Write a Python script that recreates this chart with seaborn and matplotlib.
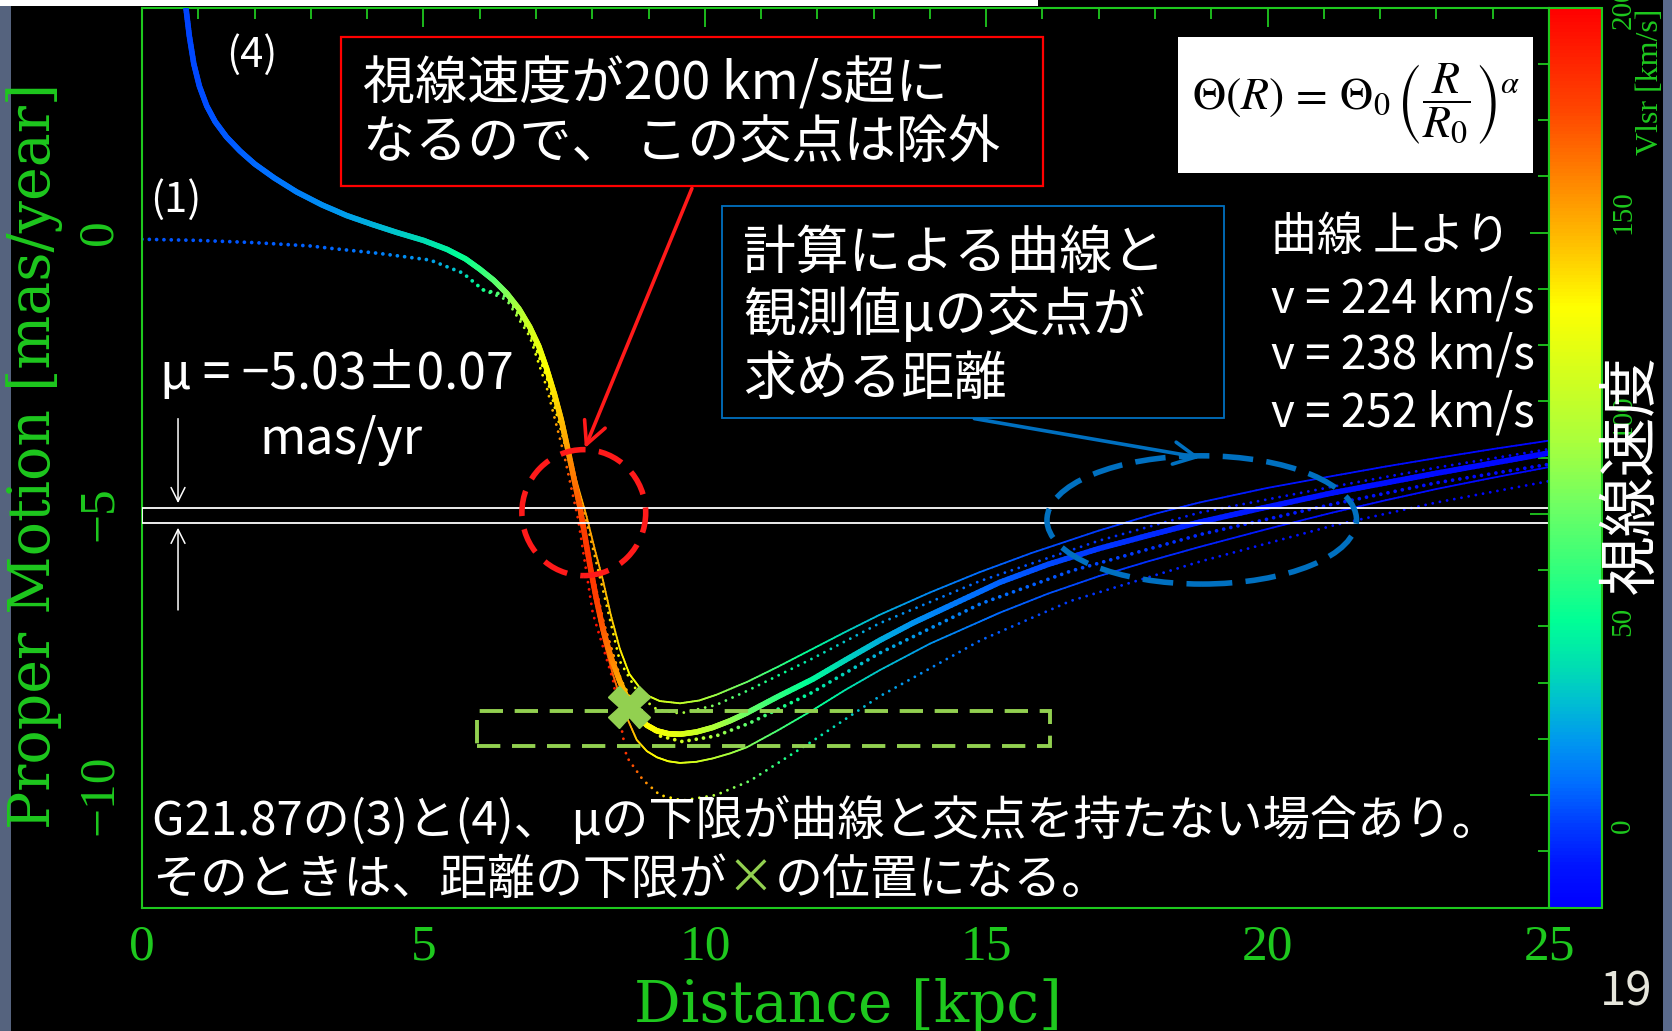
import numpy as np
import matplotlib
matplotlib.use("Agg")
import matplotlib.pyplot as plt
import seaborn as sns
from matplotlib.collections import LineCollection
from matplotlib.colors import LinearSegmentedColormap, Normalize
from matplotlib.patches import Rectangle, Ellipse
from matplotlib.cm import ScalarMappable
from matplotlib.ticker import MultipleLocator

# ---------------- data ----------------
# case (4): three rotation speeds (224 / 238 / 252 km/s)
# distance [kpc], proper motion [mas/yr], Vlsr [km/s] along each curve
main_d = [0.78, 0.84, 0.92, 1.02, 1.15, 1.30, 1.50, 1.74, 2.00, 2.35, 2.75, 3.20, 3.64, 4.10,
          4.53, 5.00, 5.42, 5.75, 6.00, 6.25, 6.48, 6.70, 6.89, 7.05, 7.19, 7.33, 7.45, 7.55,
          7.66, 7.78, 7.87, 7.96, 8.07, 8.19, 8.33, 8.49, 8.64, 8.79, 8.97, 9.15, 9.35, 9.56,
          9.85, 10.14, 10.45, 10.75, 11.30, 11.92, 12.50, 13.11, 13.70, 14.30, 15.24, 16.10,
          17.00, 17.90, 18.79, 19.90, 21.15, 22.10, 23.00, 24.00, 25.00]
main_mu = [4.00, 3.50, 3.00, 2.60, 2.25, 1.97, 1.70, 1.45, 1.22, 0.97, 0.72, 0.49, 0.30, 0.14,
           0.00, -0.14, -0.30, -0.47, -0.65, -0.85, -1.08, -1.36, -1.68, -2.02, -2.42, -2.88,
           -3.33, -3.78, -4.30, -4.88, -5.40, -5.92, -6.50, -7.05, -7.55, -7.98, -8.32, -8.58,
           -8.76, -8.86, -8.91, -8.92, -8.88, -8.80, -8.68, -8.54, -8.25, -7.94, -7.60, -7.25,
           -6.94, -6.66, -6.22, -5.90, -5.62, -5.38, -5.15, -4.90, -4.63, -4.45, -4.28, -4.10,
           -3.92]
main_v = [2, 2, 3, 3, 4, 5, 6, 7, 9, 11, 14, 18, 22, 27,
          32, 38, 45, 52, 60, 70, 82, 95, 108, 118, 126, 134, 142, 150,
          160, 170, 178, 182, 178, 170, 160, 150, 140, 133, 128, 125, 120, 116,
          108, 98, 88, 78, 62, 48, 37, 27, 20, 14, 8, 3,
          -1, -4, -7, -9, -11, -13, -14, -15, -16]

upper_d = [6.48, 6.89, 7.19, 7.45, 7.70, 7.90, 8.05, 8.19, 8.33, 8.49, 8.66, 8.85, 9.00, 9.20,
           9.56, 9.90, 10.20, 10.75, 11.30, 11.92, 12.50, 13.10, 14.00, 14.88, 15.80, 17.00,
           18.00, 18.79, 20.00, 21.15, 22.10, 23.00, 24.00, 25.00]
upper_mu = [-1.08, -1.68, -2.42, -3.30, -4.35, -5.05, -5.65, -6.18, -6.80, -7.40, -7.85, -8.10,
            -8.24, -8.33, -8.37, -8.32, -8.22, -7.99, -7.72, -7.40, -7.10, -6.80, -6.40, -6.04,
            -5.70, -5.30, -5.00, -4.80, -4.54, -4.33, -4.16, -4.01, -3.85, -3.70]
upper_v = [82, 108, 126, 138, 146, 150, 150, 146, 140, 133, 126, 120, 115, 110,
           104, 97, 90, 76, 62, 48, 37, 27, 17, 10, 5, 0,
           -4, -6, -9, -11, -13, -14, -16, -17]

lower_d = [6.48, 6.89, 7.19, 7.45, 7.66, 7.78, 7.96, 8.19, 8.35, 8.49, 8.64, 8.79, 8.97, 9.15,
           9.35, 9.56, 9.85, 10.14, 10.45, 10.75, 11.30, 11.92, 12.50, 13.11, 14.00, 14.88,
           15.24, 16.10, 17.00, 17.90, 18.79, 20.00, 21.15, 22.10, 23.00, 24.00, 25.00]
lower_mu = [-1.08, -1.68, -2.42, -3.35, -4.35, -4.95, -6.05, -7.20, -7.80, -8.25, -8.68, -9.02,
            -9.22, -9.33, -9.40, -9.43, -9.41, -9.35, -9.26, -9.15, -8.85, -8.49, -8.13, -7.78,
            -7.31, -6.92, -6.76, -6.42, -6.11, -5.84, -5.59, -5.27, -4.98, -4.76, -4.56, -4.36,
            -4.17]
lower_v = [82, 108, 126, 145, 160, 170, 182, 178, 170, 160, 150, 140, 132, 126,
           121, 117, 110, 102, 93, 84, 68, 54, 42, 32, 20, 12,
           9, 5, 1, -3, -6, -9, -11, -13, -14, -16, -17]

# case (1): dotted curves
dot_main_d = [0.0, 1.0, 2.0, 3.0, 3.34, 4.2, 5.12, 5.70, 6.06, 6.48, 6.89, 7.19, 7.50, 7.75,
              7.95, 8.20, 8.50, 8.85, 9.20, 9.60, 10.20, 10.80, 11.90, 13.10, 14.90, 16.50,
              18.80, 21.20, 23.00, 25.00]
dot_main_mu = [-0.12, -0.14, -0.18, -0.24, -0.28, -0.37, -0.49, -0.72, -1.02, -1.12, -1.74,
               -2.52, -3.55, -4.70, -5.85, -6.95, -7.95, -8.60, -8.95, -9.05, -8.95, -8.72,
               -8.18, -7.48, -6.60, -6.02, -5.37, -4.82, -4.45, -4.12]
dot_main_v = [5, 5, 6, 8, 9, 14, 22, 35, 55, 80, 105, 125, 150, 170,
              180, 165, 145, 128, 118, 108, 92, 72, 45, 26, 12, 4, -5, -10, -13, -16]

dot_upper_d = [6.06, 6.48, 6.89, 7.19, 7.55, 7.90, 8.19, 8.49, 8.85, 9.15, 9.56, 10.20, 10.75,
               11.92, 13.10, 14.88, 17.00, 18.79, 21.15, 23.00, 25.00]
dot_upper_mu = [-1.02, -1.15, -1.78, -2.58, -3.90, -5.15, -6.35, -7.62, -8.25, -8.48, -8.55,
                -8.40, -8.15, -7.57, -6.95, -6.20, -5.48, -4.98, -4.52, -4.18, -3.85]
dot_upper_v = [55, 80, 105, 125, 140, 150, 140, 125, 112, 105, 95, 80, 65,
               40, 22, 8, -2, -8, -12, -15, -18]

dot_lower_d = [6.06, 6.48, 6.89, 7.19, 7.50, 7.75, 8.01, 8.37, 8.61, 8.90, 9.20, 9.60, 10.20,
               10.80, 11.90, 13.10, 14.90, 16.50, 18.80, 21.20, 23.00, 25.00]
dot_lower_mu = [-1.02, -1.20, -1.85, -2.75, -3.95, -5.10, -6.77, -7.96, -9.32, -9.73, -10.0,
                -10.1, -10.0, -9.75, -9.05, -8.25, -7.25, -6.55, -5.85, -5.20, -4.80, -4.42]
dot_lower_v = [55, 80, 110, 135, 165, 185, 195, 190, 180, 160, 140, 120, 95,
               75, 45, 25, 8, 0, -8, -12, -15, -18]

# observed proper motion
mu_obs = -5.03
mu_err = 0.07

# colour scale for Vlsr
vlsr_nodes = [-20, -10, 0, 10, 20, 30, 38, 50, 65, 78, 94, 110, 127, 143, 159, 175, 200]
vlsr_colors = ["#0000ff", "#0014ff", "#003cff", "#006eff", "#0096f0", "#00bed2", "#00dcb4",
               "#00ff96", "#3cff78", "#6eff64", "#aaff3c", "#d2ff1e", "#ffff00", "#ffbe00",
               "#ff8200", "#ff4600", "#ff0000"]
vmin, vmax = -20, 200

x_ticks_major = [0, 5, 10, 15, 20, 25]
y_ticks_major = [0, -5, -10]
cb_ticks = [0, 50, 100, 150, 200]

# ---------------- style ----------------
sns.set_theme(style="dark", rc={"axes.facecolor": "black", "figure.facecolor": "black",
                                "axes.grid": False})
plt.rcParams["font.family"] = ["Noto Sans CJK JP", "DejaVu Sans"]

GREEN = "#1ec81e"
W, H = 1672, 1031
fig = plt.figure(figsize=(W / 100, H / 100), dpi=100, facecolor="black")


def fx(px):
    return px / W


def fy(py):
    return 1 - py / H


ax = fig.add_axes([fx(142), fy(907.5), (1549 - 142) / W, 900 / H])
cax = fig.add_axes([fx(1549), fy(907.5), 53 / W, 900 / H])
ax.set_facecolor("black")

pos = [(v - vmin) / (vmax - vmin) for v in vlsr_nodes]
cmap = LinearSegmentedColormap.from_list("vlsr", list(zip(pos, vlsr_colors)))
norm = Normalize(vmin=vmin, vmax=vmax)


def gradient_line(d, mu, v, lw, z=3, sub=12):
    d, mu, v = (np.asarray(a, float) for a in (d, mu, v))
    t = np.linspace(0, 1, sub + 1)
    segs, vals = [], []
    for i in range(len(d) - 1):
        xs = d[i] + (d[i + 1] - d[i]) * t
        ys = mu[i] + (mu[i + 1] - mu[i]) * t
        vs = v[i] + (v[i + 1] - v[i]) * t
        for j in range(sub):
            segs.append([(xs[j], ys[j]), (xs[j + 1], ys[j + 1])])
            vals.append(0.5 * (vs[j] + vs[j + 1]))
    lc = LineCollection(segs, cmap=cmap, norm=norm, linewidths=lw, zorder=z,
                        capstyle="round")
    lc.set_array(np.array(vals))
    ax.add_collection(lc)


def dotted_line(d, mu, v, step=0.13, size=5, z=2.5):
    # evenly spaced dots along the polyline, coloured by Vlsr
    d, mu, v = (np.asarray(a, float) for a in (d, mu, v))
    seg = np.hypot(np.diff(d), np.diff(mu))
    s = np.concatenate([[0], np.cumsum(seg)])
    sp = np.arange(0, s[-1], step)
    xd = np.interp(sp, s, d)
    yd = np.interp(sp, s, mu)
    vd = np.interp(sp, s, v)
    sns.scatterplot(x=xd, y=yd, hue=vd, palette=cmap, hue_norm=norm, s=size,
                    linewidth=0, legend=False, ax=ax, zorder=z)


dotted_line(dot_main_d, dot_main_mu, dot_main_v, size=7)
dotted_line(dot_upper_d, dot_upper_mu, dot_upper_v, size=4)
dotted_line(dot_lower_d, dot_lower_mu, dot_lower_v, size=4)
gradient_line(upper_d, upper_mu, upper_v, 1.3)
gradient_line(lower_d, lower_mu, lower_v, 1.3)
gradient_line(main_d, main_mu, main_v, 4.0, z=4)

ax.set_xlim(0, 25)
ax.set_ylim(-12, 4)

# observed proper-motion band
ax.add_patch(Rectangle((0, mu_obs - 2 * mu_err), 25, 4 * mu_err, fill=False,
                       edgecolor="white", lw=1.3, zorder=6))

# axes styling
for sp_ in ax.spines.values():
    sp_.set_color(GREEN)
    sp_.set_linewidth(1.5)
ax.xaxis.set_major_locator(MultipleLocator(5))
ax.xaxis.set_minor_locator(MultipleLocator(1))
ax.yaxis.set_major_locator(MultipleLocator(5))
ax.yaxis.set_minor_locator(MultipleLocator(1))
ax.tick_params(which="both", direction="in", top=True, right=True, color=GREEN, width=1.3)
ax.tick_params(which="major", length=14)
ax.tick_params(which="minor", length=8)
ax.set_xticks(x_ticks_major)
ax.set_xticklabels([str(t) for t in x_ticks_major], family="Liberation Serif",
                   fontsize=37, color=GREEN)
ax.set_yticks(y_ticks_major)
ax.set_yticklabels(["\u2212" + str(-t) if t < 0 else str(t) for t in y_ticks_major],
                   family="Liberation Serif", fontsize=37, color=GREEN, rotation=90,
                   va="center")
ax.tick_params(axis="x", pad=12)
ax.tick_params(axis="y", pad=14)

fig.text(fx(848), fy(1006), "Distance [kpc]", family="DejaVu Serif", fontsize=42,
         color=GREEN, ha="center", va="center")
fig.text(fx(35), fy(456), "Proper Motion [mas/year]", family="DejaVu Serif", fontsize=41,
         color=GREEN, ha="center", va="center", rotation=90)

# colour bar
sm = ScalarMappable(norm=norm, cmap=cmap)
cb = fig.colorbar(sm, cax=cax)
cb.outline.set_edgecolor(GREEN)
cb.outline.set_linewidth(1.5)
cax.yaxis.set_major_locator(MultipleLocator(50))
cax.yaxis.set_minor_locator(MultipleLocator(10))
cax.tick_params(which="both", direction="in", left=True, right=True, color=GREEN, width=1.2)
cax.tick_params(which="major", length=9)
cax.tick_params(which="minor", length=5)
cax.set_yticks(cb_ticks)
cax.set_yticklabels([str(t) for t in cb_ticks], family="Liberation Serif", fontsize=21,
                    color=GREEN, rotation=90, va="center")
cax.tick_params(axis="y", pad=6)
fig.text(fx(1651), fy(82), "Vlsr [km/s]", family="Liberation Serif", fontsize=23,
         color=GREEN, ha="center", va="center", rotation=90)

# slide frame pieces
fig.patches.append(Rectangle((0, 0), fx(11), 1, transform=fig.transFigure,
                             facecolor="#55637e", edgecolor="none", zorder=0))
fig.patches.append(Rectangle((fx(1663), 0), 1 - fx(1663), 1, transform=fig.transFigure,
                             facecolor="#5a6a8c", edgecolor="none", zorder=0))
fig.patches.append(Rectangle((0, fy(5.5)), fx(1038), 5.5 / H, transform=fig.transFigure,
                             facecolor="white", edgecolor="none", zorder=0))

WH = "white"
JP = ["Noto Sans CJK JP", "DejaVu Sans"]

# red note box
fig.patches.append(Rectangle((fx(341), fy(186)), (1043 - 341) / W, (186 - 37) / H,
                             transform=fig.transFigure, facecolor="black",
                             edgecolor="#ff0000", lw=1.6, zorder=5))
fig.text(fx(363), fy(85), "視線速度が200 km/s超に", color=WH, fontsize=37.5, family=JP,
         va="center", zorder=6)
fig.text(fx(363), fy(144), "なるので、 この交点は除外", color=WH, fontsize=37.5, family=JP,
         va="center", zorder=6)

# formula box
fig.patches.append(Rectangle((fx(1178), fy(173)), (1533 - 1178) / W, (173 - 37) / H,
                             transform=fig.transFigure, facecolor="white",
                             edgecolor="none", zorder=5))
fig.text(fx(1356), fy(104),
         r"$\Theta(R)\,=\,\Theta_0\,\left(\dfrac{R}{R_0}\right)^{\alpha}$",
         color="black", fontsize=33, ha="center", va="center", zorder=6,
         math_fontfamily="stix")

# blue note box
fig.patches.append(Rectangle((fx(722), fy(418)), (1224 - 722) / W, (418 - 206) / H,
                             transform=fig.transFigure, facecolor="black",
                             edgecolor="#0070c0", lw=1.3, zorder=5))
for txt, yy in [("計算による曲線と", 253), ("観測値μの交点が", 315), ("求める距離", 379)]:
    fig.text(fx(743), fy(yy), txt, color=WH, fontsize=38, family=JP, va="center", zorder=6)

# speed legend text
fig.text(fx(1271), fy(237), "曲線 上より", color=WH, fontsize=33, family=JP, va="center")
for txt, yy in [("v = 224 km/s", 299), ("v = 238 km/s", 355), ("v = 252 km/s", 413)]:
    fig.text(fx(1271), fy(yy), txt, color=WH, fontsize=33, family=JP, va="center")

# case labels
fig.text(fx(252), fy(55), "(4)", color=WH, fontsize=30, family=JP, ha="center", va="center")
fig.text(fx(176), fy(200), "(1)", color=WH, fontsize=30, family=JP, ha="center", va="center")

# observed value
fig.text(fx(160), fy(375), "μ = \u22125.03±0.07", color=WH, fontsize=36, family=JP,
         va="center")
fig.text(fx(259), fy(440), "mas/yr", color=WH, fontsize=36, family=JP, va="center")

# white arrows marking the band
ax.annotate("", xy=(0.64, -4.86), xytext=(0.64, -3.26),
            arrowprops=dict(arrowstyle="->", color=WH, lw=1.1, mutation_scale=25))
ax.annotate("", xy=(0.64, -5.20), xytext=(0.64, -6.76),
            arrowprops=dict(arrowstyle="->", color=WH, lw=1.1, mutation_scale=25))

# red dashed circle and arrow
ax.add_patch(Ellipse((7.85, -4.98), 2.2, 2.24, fill=False, edgecolor="#ff1a1a", lw=4,
                     linestyle=(0, (4.6, 2.4)), zorder=7))
ax.annotate("", xy=(7.85, -3.88), xytext=(9.79, 0.83),
            arrowprops=dict(arrowstyle="->", color="#ff1a1a", lw=2.6, mutation_scale=40),
            zorder=7)

# blue dashed ellipse and arrow
ax.add_patch(Ellipse((18.83, -5.11), 5.5, 2.28, fill=False, edgecolor="#0070c0", lw=4,
                     linestyle=(0, (5.5, 2.4)), zorder=7))
ax.annotate("", xy=(18.85, -4.01), xytext=(14.74, -3.30),
            arrowprops=dict(arrowstyle="->", color="#0070c0", lw=2.6, mutation_scale=40),
            zorder=7)

# green dashed box and cross
ax.add_patch(Rectangle((5.95, -9.13), 16.13 - 5.95, 0.62, fill=False, edgecolor="#92d050",
                       lw=2.8, linestyle=(0, (6, 3)), zorder=7))
ax.plot([8.65], [-8.44], marker="X", ms=30, color="#92d050", mec="#92d050", zorder=8)

# bottom note
fig.text(fx(152), fy(821), "G21.87の(3)と(4)、 μの下限が曲線と交点を持たない場合あり。",
         color=WH, fontsize=34, family=JP, va="center", zorder=6)
t1 = fig.text(fx(152), fy(880), "そのときは、距離の下限が", color=WH, fontsize=34.5,
              family=JP, va="center", zorder=6)
t2 = fig.text(0, 0, "×", color="#92d050", fontsize=34.5, family=JP, zorder=6)
t3 = fig.text(0, 0, "の位置になる。", color=WH, fontsize=34.5, family=JP, zorder=6)
fig.canvas.draw()
r = fig.canvas.get_renderer()
bb1 = t1.get_window_extent(r)
t2.set_position((bb1.x1 / W, bb1.y0 / H))
t2.set_va("bottom")
fig.canvas.draw()
bb2 = t2.get_window_extent(r)
t3.set_position((bb2.x1 / W, bb1.y0 / H))
t3.set_va("bottom")

# vertical caption beside the colour bar
fig.text(fx(1632), fy(475), "視線速度", color=WH, fontsize=43, family=JP, rotation=90,
         ha="center", va="center", zorder=10)

# page number
fig.text(fx(1626), fy(992), "19", color="#e6e6dc", fontsize=34, family=JP, ha="center",
         va="center")

fig.savefig("out.png", dpi=100, facecolor="black")
